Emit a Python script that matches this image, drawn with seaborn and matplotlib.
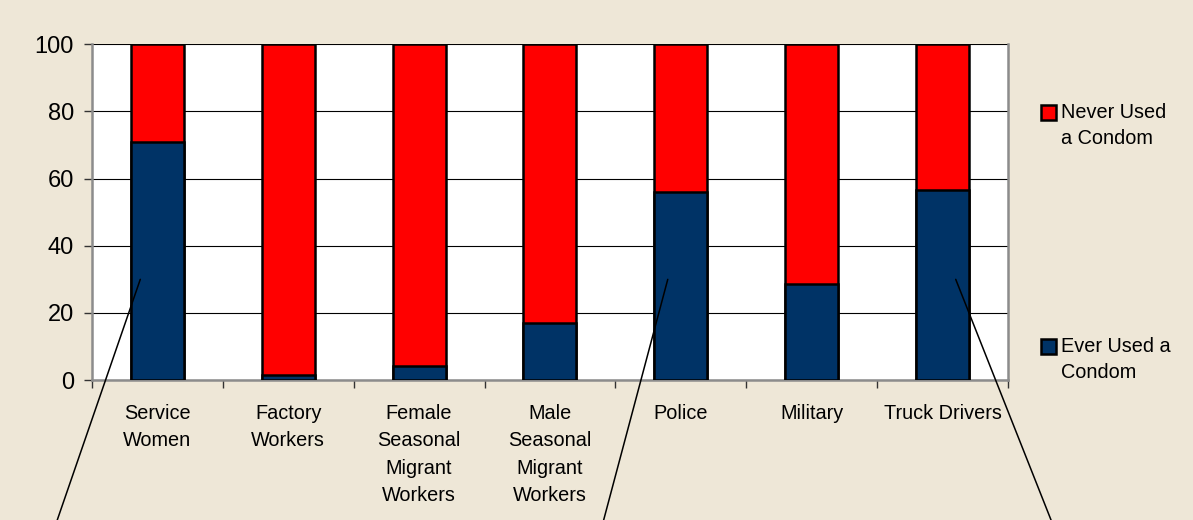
import numpy as np
import pandas as pd
import seaborn as sns
import matplotlib.pyplot as plt
from matplotlib.patches import Rectangle

sns.set_style('white')
plt.rcParams['font.family'] = ['Liberation Sans', 'DejaVu Sans']
plt.rcParams['text.color'] = 'black'
plt.rcParams['xtick.color'] = 'black'
plt.rcParams['ytick.color'] = 'black'

# data (percent)
groups = ['Service\nWomen', 'Factory\nWorkers', 'Female\nSeasonal\nMigrant\nWorkers',
          'Male\nSeasonal\nMigrant\nWorkers', 'Police', 'Military', 'Truck Drivers']
ever_used = [71, 1.5, 4.2, 17, 56, 28.6, 56.5]
never_used = [29, 98.5, 95.8, 83, 44, 71.4, 43.5]
yticks = [0, 20, 40, 60, 80, 100]
legend_labels = ['Never Used\na Condom', 'Ever Used a\nCondom']

df = pd.DataFrame({'group': groups, 'ever': ever_used, 'never': never_used})
df['total'] = df['ever'] + df['never']

bg = '#EEE7D7'
red = '#FF0000'
navy = '#003366'

fig = plt.figure(figsize=(11.93, 5.2), dpi=100, facecolor=bg)
ax = fig.add_axes([0.077, 0.269, 0.768, 0.646])
ax.set_facecolor('white')

# stacked bars: full height in red, the "ever used" part in navy on top of it
sns.barplot(data=df, x='group', y='total', color=red, width=0.405,
            edgecolor='black', linewidth=1.8, saturation=1, ax=ax, zorder=3)
sns.barplot(data=df, x='group', y='ever', color=navy, width=0.405,
            edgecolor='black', linewidth=1.8, saturation=1, ax=ax, zorder=3)

ax.set_ylim(0, 100)
ax.set_xlim(-0.5, len(groups) - 0.5)
ax.set_yticks(yticks)
ax.yaxis.grid(True, color='black', linewidth=0.8)
ax.set_axisbelow(True)
ax.set_xlabel('')
ax.set_ylabel('')

ax.tick_params(axis='y', labelsize=17, length=6, width=1, color='#333333',
               pad=7, left=True, labelcolor='black')
ax.set_xticks(range(len(groups)))
ax.set_xticklabels(groups, fontsize=14.3, linespacing=1.57, va='top', color='black')
ax.tick_params(axis='x', which='major', length=0, pad=17)
ax.set_xticks(np.arange(-0.5, len(groups), 1), minor=True)
ax.tick_params(axis='x', which='minor', length=6, width=1, color='#333333', bottom=True)

for side in ['left', 'bottom', 'right']:
    ax.spines[side].set_color('#8C8C8C')
    ax.spines[side].set_linewidth(1.8)
ax.spines['top'].set_visible(False)

# legend drawn by hand so the key sits next to the first text line, as in Excel
key_rows = [(0.7692, 0.723, red), (0.3192, 0.273, navy)]
for label, (sq_y, txt_y, col) in zip(legend_labels, key_rows):
    fig.patches.append(Rectangle((0.8726, sq_y), 0.0126, 0.0288, transform=fig.transFigure,
                                 facecolor=col, edgecolor='black', linewidth=1.8))
    fig.text(0.8893, txt_y, label, fontsize=14.3, va='baseline', ha='left',
             linespacing=1.45)

# callout lines going out of the chart
callouts = [(0, -0.13, 0.048), (4, -0.10, 0.506), (6, 0.10, 0.881)]
for idx, dx, xend in callouts:
    ax.annotate('', xy=(idx + dx, 30), xycoords='data',
                xytext=(xend, 0.0), textcoords='figure fraction',
                arrowprops=dict(arrowstyle='-', color='black', linewidth=1.1,
                                shrinkA=0, shrinkB=0),
                annotation_clip=False, zorder=5)

fig.savefig('out.png', dpi=100, facecolor=bg)
